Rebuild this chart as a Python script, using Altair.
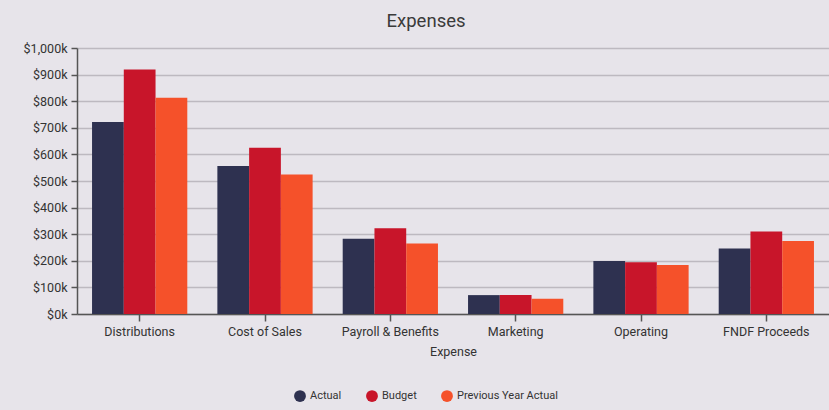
import altair as alt
import pandas as pd

categories = ["Distributions", "Cost of Sales", "Payroll & Benefits", "Marketing", "Operating", "FNDF Proceeds"]
series = ["Actual", "Budget", "Previous Year Actual"]
actual = [722, 556, 283, 71, 199, 246]
budget = [919, 625, 322, 71, 195, 310]
prev_year = [813, 524, 265, 57, 184, 274]
colors = ["#2e3150", "#c8152a", "#f5512a"]

rows = []
for vals, s in zip([actual, budget, prev_year], series):
    for c, v in zip(categories, vals):
        rows.append({"Expense": c, "Series": s, "Value": v * 1000})
df = pd.DataFrame(rows)

FONT = "Roboto"
bars = alt.Chart(df).mark_bar().encode(
    x=alt.X("Expense:N", sort=categories,
            scale=alt.Scale(paddingInner=0.24, paddingOuter=0.12),
            axis=alt.Axis(title="Expense", labelAngle=0, labelFontSize=12.5, labelColor="#333333",
                          titleFontSize=12.5, titleFontWeight="normal", titleColor="#333333",
                          domainColor="#555555", domainWidth=1.5, tickColor="#555555",
                          tickWidth=1.5, tickSize=7, labelPadding=4, titlePadding=8,
                          labelFont=FONT, titleFont=FONT)),
    xOffset=alt.XOffset("Series:N", sort=series, scale=alt.Scale(paddingInner=0, paddingOuter=0)),
    y=alt.Y("Value:Q", scale=alt.Scale(domain=[0, 1000000], nice=False),
            axis=alt.Axis(title=None, values=list(range(0, 1000001, 100000)),
                          labelExpr="'$' + format(datum.value/1000, ',') + 'k'",
                          labelFontSize=12.5, labelColor="#333333", labelFont=FONT,
                          domainColor="#555555", domainWidth=1.5, tickColor="#555555",
                          tickWidth=1.5, tickSize=6, labelPadding=4,
                          gridColor="#bdb9c0", gridWidth=1.5)),
    color=alt.Color("Series:N", sort=series,
                    scale=alt.Scale(domain=series, range=colors),
                    legend=alt.Legend(title=None, orient="none", direction="horizontal",
                                      legendX=217, legendY=342, symbolType="circle",
                                      symbolSize=140, symbolStrokeWidth=0, labelFontSize=11,
                                      labelColor="#333333", labelFont=FONT, columnPadding=24)),
)

chart = bars.properties(
    width=752, height=266,
    title=alt.TitleParams("Expenses", fontSize=18.5, font=FONT, fontWeight="normal",
                          color="#3a3a3a", anchor="middle", frame="bounds", offset=12),
    background="#e7e4ea",
    padding={"left": 77, "top": 48, "right": 0, "bottom": 96},
    autosize=alt.AutoSizeParams(type="none"),
).configure_view(stroke=None).configure_axisX(grid=False)

chart.save("out.html", embed_options={"renderer": "svg", "actions": False})
